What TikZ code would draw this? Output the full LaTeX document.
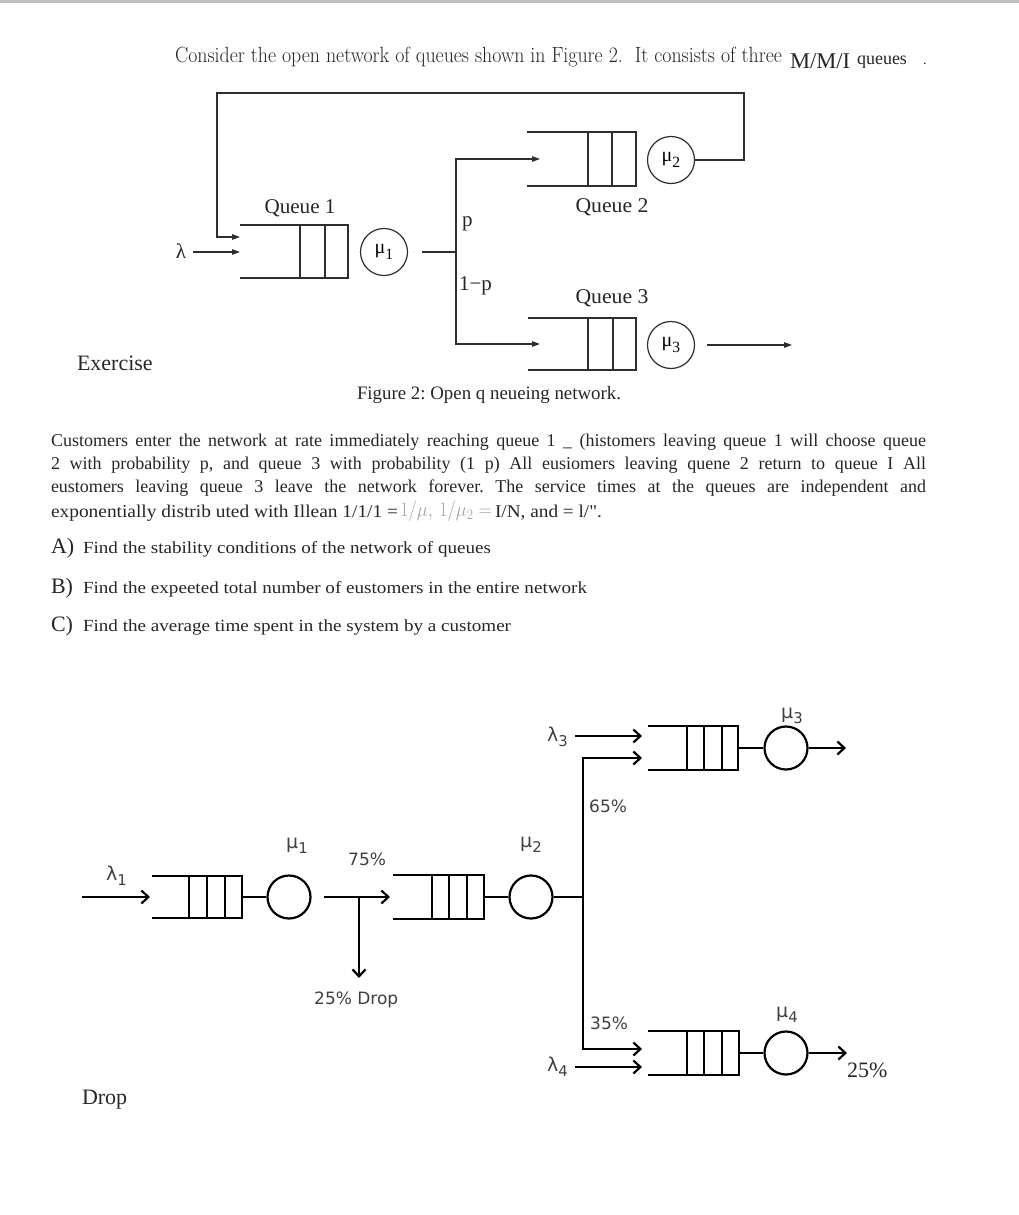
\documentclass[tikz,border=0pt]{standalone}
\usepackage{fontspec}
\usepackage{graphicx}
\usetikzlibrary{arrows.meta,calc}
\newfontfamily\tnr{Liberation Serif}
\newfontfamily\dvs{DejaVu Sans}
\newcommand{\fitw}[2]{\resizebox{#1}{\height}{#2}}
\newcommand{\fsz}[1]{\fontsize{#1}{#1}\selectfont}
\newcommand{\lsub}[1]{\raisebox{-0.28em}{\scalebox{0.78}{#1}}}
\newcommand{\qbox}[7]{%
  \node[inner sep=0pt, outer sep=0pt, minimum width=#4pt, minimum height=#5pt] (#1) at (#2,#3) {};
  \draw[#7] (#1.north west) -- (#1.north east) -- (#1.south east) -- (#1.south west);
  \foreach \qq in {#6} {\draw[#7] ([xshift=-\qq pt]#1.north east) -- ([xshift=-\qq pt]#1.south east);}
}
\frenchspacing
\begin{document}
\begin{tikzpicture}[x=1pt,y=-1pt,
  tl/.style={line width=1.2pt, draw=black!82},
  ta/.style={tl, -{Triangle[length=8pt,width=5.5pt]}},
  tc/.style={circle, draw=black!82, line width=1.2pt, minimum size=47pt, inner sep=0pt, font=\tnr\fsz{20}},
  bl/.style={line width=2.2pt, draw=black},
  ba/.style={bl, -{Straight Barb[length=7pt,width=13pt]}},
  bc/.style={circle, draw=black, line width=2.2pt, minimum size=43pt, inner sep=0pt},
  tx/.style={inner sep=0pt, outer sep=0pt, text=black!85},
  lab/.style={inner sep=0pt, anchor=base west, text=black!75, font=\dvs\fsz{17}},
  gl/.style={inner sep=0pt, anchor=base west, text=black!75, font=\dvs\fsz{19}},
]
\useasboundingbox (0,0) rectangle (1019,1215);
\fill[white] (0,0) rectangle (1019,1215);
\draw[line width=3pt, draw=black!25] (0,1.5) -- (1019,1.5);

% header
\node[tx, anchor=base west, font=\fsz{22}] (hd) at (175,63) {\fitw{607pt}{Consider the open network of queues shown in Figure 2.\ \ It consists of three}};
\node[tx, anchor=base west, font=\tnr\fsz{22.5}] (mmi) at (790,68) {M/M/I};
\node[tx, anchor=base west, font=\tnr\fsz{18}] (qs) at (857,64) {queues};
\node[tx, anchor=base west, font=\tnr\fsz{14}] (dot) at (923,64) {.};

% top diagram
\qbox{q1}{294}{251.5}{108}{53}{23,48}{tl}
\qbox{q2}{581.5}{159}{109}{54}{24,48}{tl}
\qbox{q3}{582}{344}{108}{52}{23,48}{tl}
\node[tc] (m1) at (384,252) {μ\lsub{1}};
\node[tc] (m2) at (671,160) {μ\lsub{2}};
\node[tc] (m3) at (671,345) {μ\lsub{3}};

\coordinate (fbR) at (744,93);
\coordinate (fbL) at (217,93);
\draw[ta] (m2.east) -| (fbR) -- (fbL) |- ([yshift=14.5pt]q1.west);

\node[tx, anchor=base, font=\tnr\fsz{21}] (lam) at (181,258) {λ};
\coordinate (lamS) at (193,252);
\draw[ta] (lamS) -- (lamS -| q1.west);

\coordinate (br) at (456,252);
\coordinate (brT) at (456,159);
\coordinate (brB) at (456,344);
\draw[tl] ([xshift=14pt]m1.east) -- (br);
\draw[ta] (br) -- (brT) -- ([xshift=13pt]q2.west);
\draw[ta] (br) -- (brB) -- ([xshift=12pt]q3.west);
\coordinate (out3) at (792,345);
\draw[ta] ([xshift=12pt]m3.east) -- (out3);

\node[tx, anchor=base, font=\tnr\fsz{21}] (lq1) at (300,213) {\fitw{71pt}{Queue 1}};
\node[tx, anchor=base, font=\tnr\fsz{21}] (lq2) at (612,212) {\fitw{73pt}{Queue 2}};
\node[tx, anchor=base, font=\tnr\fsz{21}] (lq3) at (612,303) {\fitw{73pt}{Queue 3}};
\node[tx, anchor=base west, font=\tnr\fsz{21}] (lp) at (462,226) {p};
\node[tx, anchor=base west, font=\tnr\fsz{21}] (l1p) at (459,290) {1−p};
\node[tx, anchor=base west, font=\tnr\fsz{19}] (cap) at (357,399) {\fitw{264pt}{Figure 2: Open q neueing network.}};
\node[tx, anchor=base west, font=\tnr\fsz{22}] (ex) at (77,370) {Exercise};

% paragraph
\node[tx, anchor=base west, font=\tnr\fsz{18}] (p1) at (51,446) {\makebox[875pt][s]{Customers enter the network at rate immediately reaching queue 1 \_ (histomers leaving queue 1 will choose queue}};
\node[tx, anchor=base west, font=\tnr\fsz{18}] (p2) at (51,469) {\makebox[875pt][s]{2 with probability p, and queue 3 with probability (1 p) All eusiomers leaving quene 2 return to queue I All}};
\node[tx, anchor=base west, font=\tnr\fsz{18}] (p3) at (51,492) {\makebox[875pt][s]{eustomers leaving queue 3 leave the network forever. The service times at the queues are independent and}};
\node[tx, anchor=base west, font=\tnr\fsz{18}] (p4a) at (51,517) {\fitw{347pt}{exponentially distrib uted with Illean 1/1/1 =}};
\node[tx, anchor=base west, font=\fsz{22}, text=black!35] (p4b) at (400,516) {\fitw{92pt}{$1/\mu,\,1/\mu_2 =$}};
\node[tx, anchor=base west, font=\tnr\fsz{18}] (p4c) at (495,517) {\fitw{107pt}{I/N, and = l/".}};

\node[tx, anchor=base west, font=\tnr\fsz{22}] (la) at (51,553) {A)};
\node[tx, anchor=base west, font=\tnr\fsz{17}] (ta) at (83,553) {\fitw{408pt}{Find the stability conditions of the network of queues}};
\node[tx, anchor=base west, font=\tnr\fsz{22}] (lb) at (51,593) {B)};
\node[tx, anchor=base west, font=\tnr\fsz{17}] (tb) at (83,593) {\fitw{504pt}{Find the expeeted total number of eustomers in the entire network}};
\node[tx, anchor=base west, font=\tnr\fsz{22}] (lc) at (51,631) {C)};
\node[tx, anchor=base west, font=\tnr\fsz{17}] (tc) at (83,631) {\fitw{428pt}{Find the average time spent in the system by a customer}};

% bottom diagram
\qbox{bq1}{197}{897}{90}{42}{17,35,53}{bl}
\qbox{bq2}{438.5}{897}{91}{44}{17,35,52}{bl}
\qbox{bq3}{693}{748}{90}{44}{16,34,51}{bl}
\qbox{bq4}{693.5}{1053}{91}{44}{17,35,52}{bl}
\node[bc] (bm1) at (289,897) {};
\node[bc] (bm2) at (531,897) {};
\node[bc] (bm3) at (786,748) {};
\node[bc] (bm4) at (786,1053) {};

\coordinate (l1s) at (82,897);
\draw[ba] (l1s) -- ([xshift=-2pt]bq1.west);
\draw[bl] (bq1.east) -- (bm1.west);
\draw[ba] ([xshift=12pt]bm1.east) -- ([xshift=-3pt]bq2.west);
\coordinate (dsplit) at (359,897);
\coordinate (dend) at (359,978);
\draw[ba] (dsplit) -- (dend);
\draw[bl] (bq2.east) -- (bm2.west);
\coordinate (bsplit) at (583,897);
\coordinate (b3c) at (583,758);
\coordinate (b4c) at (583,1049);
\draw[bl] (bm2.east) -- (bsplit);
\draw[ba] (bsplit) -- (b3c) -- ($(bq3.west |- b3c)+(-6,0)$);
\draw[ba] (bsplit) -- (b4c) -- ($(bq4.west |- b4c)+(-6,0)$);
\coordinate (l3s) at (575,736);
\draw[ba] (l3s) -- ($(bq3.west |- l3s)+(-6,0)$);
\coordinate (l4s) at (575,1067);
\draw[ba] (l4s) -- ($(bq4.west |- l4s)+(-6,0)$);
\draw[bl] (bq3.east) -- (bm3.west);
\draw[bl] (bq4.east) -- (bm4.west);
\coordinate (o3) at (846,748);
\coordinate (o4) at (847,1053);
\draw[ba] (bm3.east) -- (o3);
\draw[ba] (bm4.east) -- (o4);

\node[gl] (bl1) at (106,880) {λ\lsub{1}};
\node[gl] (bmu1) at (286,848) {μ\lsub{1}};
\node[lab] (b75) at (348,865) {75\%};
\node[lab] (b25d) at (314,1004) {25\% Drop};
\node[gl] (bmu2) at (520,847) {μ\lsub{2}};
\node[gl] (bl3) at (547,741) {λ\lsub{3}};
\node[lab] (b65) at (589,812) {65\%};
\node[gl] (bmu3) at (781,718) {μ\lsub{3}};
\node[lab] (b35) at (590,1029) {35\%};
\node[gl] (bl4) at (547,1071) {λ\lsub{4}};
\node[gl] (bmu4) at (776,1017) {μ\lsub{4}};
\node[tx, anchor=base west, font=\tnr\fsz{22}] (b25) at (847,1077) {25\%};
\node[tx, anchor=base west, font=\tnr\fsz{22}] (drop) at (82,1104) {Drop};
\end{tikzpicture}
\end{document}
